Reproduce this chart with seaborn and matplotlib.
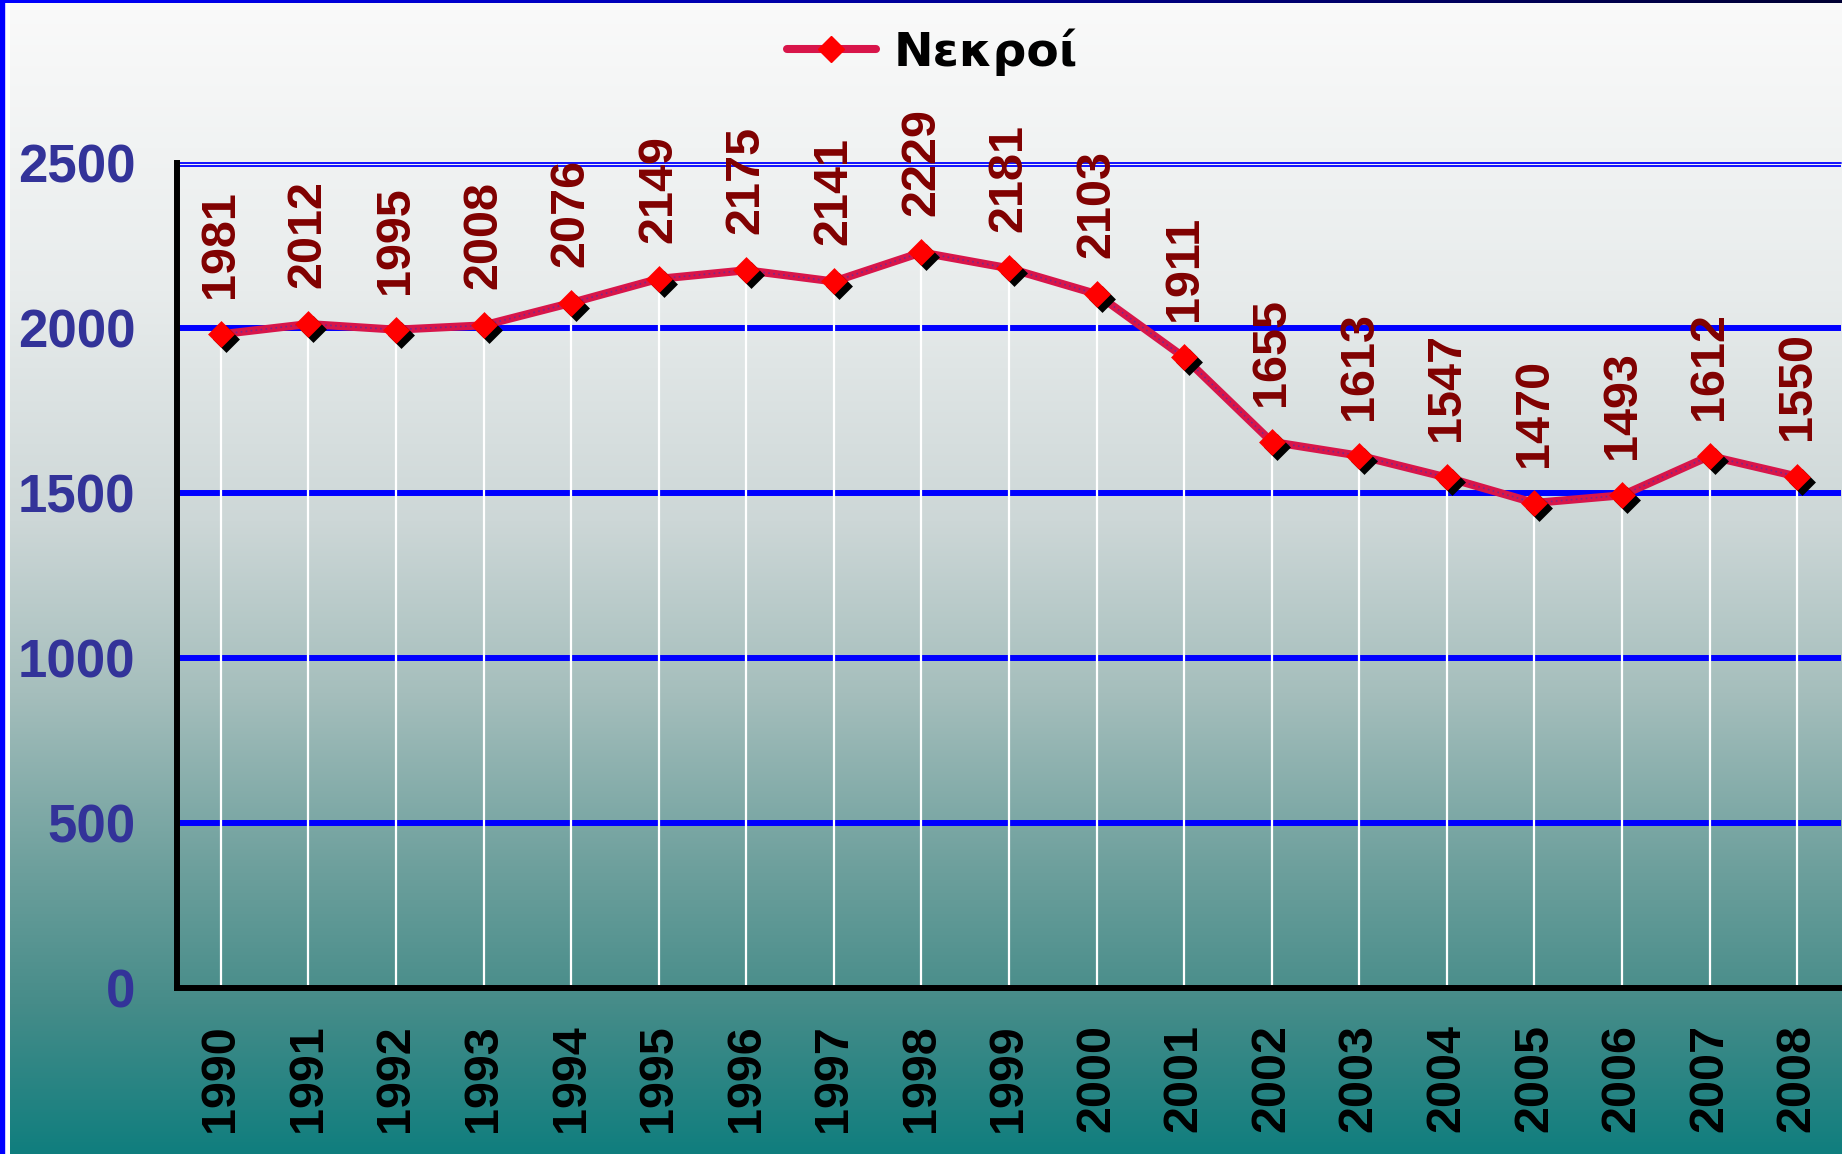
import numpy as np
import pandas as pd
import matplotlib
matplotlib.use("Agg")
import matplotlib.pyplot as plt
import matplotlib.transforms as mtransforms
from matplotlib.lines import Line2D
from matplotlib.font_manager import FontProperties
import seaborn as sns

# ---- data ----
years = ["1990", "1991", "1992", "1993", "1994", "1995", "1996", "1997", "1998", "1999",
         "2000", "2001", "2002", "2003", "2004", "2005", "2006", "2007", "2008"]
deaths = [1981, 2012, 1995, 2008, 2076, 2149, 2175, 2141, 2229, 2181,
          2103, 1911, 1655, 1613, 1547, 1470, 1493, 1612, 1550]
series_name = "Νεκροί"
y_ticks = [0, 500, 1000, 1500, 2000, 2500]

df = pd.DataFrame({"year": years, "deaths": deaths})
df["pos"] = np.arange(len(df))

sns.set_style("white")
plt.rcParams["font.family"] = ["Liberation Sans", "DejaVu Sans"]
plt.rcParams["text.color"] = "black"

W, H = 1842, 1154
fig = plt.figure(figsize=(W / 100, H / 100), dpi=100, facecolor="white")

# ---- background gradient (white -> grey -> teal) ----
stops_f = [0.0, 0.25, 0.45, 0.60, 0.75, 0.87, 1.0]
stops_c = np.array([[250, 250, 250], [232, 236, 236], [205, 215, 215], [165, 190, 188],
                    [110, 160, 157], [70, 140, 137], [16, 126, 126]]) / 255.0
rows = 600
f = np.linspace(0, 1, rows)
grad = np.stack([np.interp(f, stops_f, stops_c[:, k]) for k in range(3)], axis=-1)
grad = grad[:, None, :]
bg = fig.add_axes([10 / W, 0, 1 - 10 / W, 1 - 3 / H], zorder=0)
bg.imshow(grad, aspect="auto", extent=[0, 1, 0, 1], interpolation="bilinear")
bg.set_axis_off()

# left blue border and top blue bar
fig.patches.append(plt.Rectangle((0, 0), 4 / W, 1, transform=fig.transFigure,
                                 color="#0000FF", zorder=5))
topbar = fig.add_axes([0, 1 - 3 / H, 1, 3 / H], zorder=5)
tb = np.linspace(0, 1, 200)
tcol = np.stack([np.zeros_like(tb), np.zeros_like(tb),
                 np.interp(tb, [0, 1], [1.0, 0.2])], axis=-1)[None, :, :]
topbar.imshow(tcol, aspect="auto", extent=[0, 1, 0, 1])
topbar.set_axis_off()

# ---- main axes ----
left_px, right_px, top_px, bot_px = 177, 1841, 163, 988
ax = fig.add_axes([left_px / W, 1 - bot_px / H, (right_px - left_px) / W,
                   (bot_px - top_px) / H], zorder=2)
ax.set_facecolor("none")
ax.set_xlim(-0.5, len(years) - 0.5)
ax.set_ylim(0, 2500)

# gridlines
for yv in y_ticks[1:-1]:
    ax.axhline(yv, color="#0000FF", lw=4.3, zorder=1)
ax.axhline(2500, color="#0000FF", lw=1.3, zorder=1, clip_on=False)
ax.axhline(2500 - 3.4 * 2500 / (bot_px - top_px), color="#0000FF", lw=1.3, zorder=1)

# drop lines
ax.vlines(df["pos"], 0, df["deaths"], color="white", lw=1.6, zorder=2)

# line
sns.lineplot(data=df, x="pos", y="deaths", ax=ax, color="#D8154A", lw=5.8,
             zorder=3, legend=False)
ax.plot(df["pos"], df["deaths"], color="#4030B0", lw=1.2, ls=(0, (1, 2)),
        alpha=0.6, zorder=3.5)

# marker shadow + markers
shadow_tr = mtransforms.offset_copy(ax.transData, fig=fig, x=5, y=-5, units="dots")
ax.scatter(df["pos"], df["deaths"], marker="D", s=13.7 ** 2, color="black",
           linewidths=0, transform=shadow_tr, zorder=4)
sns.scatterplot(data=df, x="pos", y="deaths", ax=ax, marker="D", s=13.7 ** 2,
                color="#FF0000", linewidth=0, zorder=5, legend=False)

# data labels
for p, v in zip(df["pos"], df["deaths"]):
    ax.annotate(str(v), (p, v), xytext=(0, 26), textcoords="offset points",
                rotation=90, ha="center", va="bottom", fontsize=35,
                fontweight="bold", color="#800000", zorder=6)

# axes styling
for s in ["top", "right"]:
    ax.spines[s].set_visible(False)
for s in ["left", "bottom"]:
    ax.spines[s].set_color("black")
    ax.spines[s].set_linewidth(4.3)
    ax.spines[s].set_zorder(6)

ax.set_yticks(y_ticks)
ax.set_yticklabels([str(t) for t in y_ticks])
ax.tick_params(axis="y", which="major", direction="out", length=12, width=4.3,
               color="black", pad=18, labelsize=38, labelcolor="#333399")
for lab in ax.get_yticklabels():
    lab.set_fontweight("bold")

ax.set_xticks(np.arange(len(years) + 1) - 0.5)
ax.set_xticklabels([""] * (len(years) + 1))
ax.set_xticks(np.arange(len(years)), minor=True)
ax.set_xticklabels(years, minor=True, rotation=90, fontsize=35, fontweight="bold",
                   color="black")
ax.tick_params(axis="x", which="major", direction="out", length=12, width=4.3,
               color="black")
ax.tick_params(axis="x", which="minor", length=0, pad=26)
ax.set_xlabel("")
ax.set_ylabel("")
ax.grid(False)

# legend
handle = Line2D([], [], color="#D8154A", lw=5.8, marker="D", ms=13.7,
                mfc="#FF0000", mec="#FF0000")
leg = ax.legend(handles=[handle], labels=[series_name], loc="center",
                bbox_to_anchor=(932 / W, 1 - 52 / H), bbox_transform=fig.transFigure,
                frameon=False, handlelength=1.9, handletextpad=0.36,
                prop=FontProperties(family="DejaVu Sans", weight="bold", size=34))
for t in leg.get_texts():
    t.set_color("black")

fig.savefig("out.png", dpi=100, facecolor="white")
